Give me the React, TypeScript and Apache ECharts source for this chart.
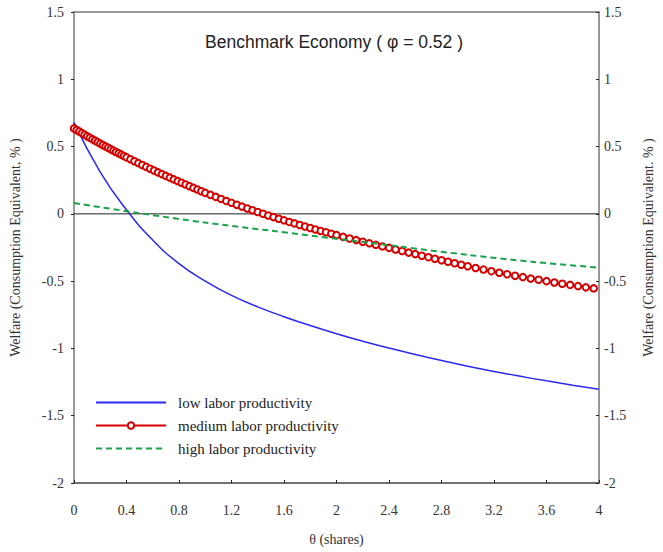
import React, { useEffect, useRef } from "react";
import * as echarts from "echarts";

const titleText = "Benchmark Economy ( φ = 0.52 )";
const xTicks = { min: 0, max: 4, interval: 0.4 };
const yTicks = { min: -2, max: 1.5, interval: 0.5 };

const seriesNames = ["low labor productivity", "medium labor productivity", "high labor productivity"];

const thetaLow = [0, 0.2, 0.4, 0.6, 0.8, 1.0, 1.2, 1.4, 1.6, 1.8, 2.0, 2.2, 2.4, 2.6, 2.8, 3.0, 3.2, 3.4, 3.6, 3.8, 4.0];
const lowValues = [0.68, 0.31, 0.03, -0.195, -0.37, -0.5, -0.606, -0.691, -0.764, -0.83, -0.891, -0.946, -0.997, -1.045, -1.09, -1.132, -1.171, -1.207, -1.241, -1.273, -1.303];

const thetaMed = [
  0, 0.02, 0.04, 0.06, 0.08, 0.1, 0.12, 0.14, 0.16, 0.18, 0.2, 0.22, 0.24, 0.26, 0.28, 0.3, 0.32, 0.34, 0.36, 0.38, 0.4,
  0.43, 0.46, 0.49, 0.52, 0.55, 0.58, 0.61, 0.64, 0.67, 0.7, 0.73, 0.76, 0.79, 0.82, 0.85, 0.88, 0.91, 0.94, 0.97, 1.0,
  1.04, 1.08, 1.12, 1.16, 1.2, 1.24, 1.28, 1.32, 1.36, 1.4, 1.44, 1.48, 1.52, 1.56, 1.6, 1.64, 1.68, 1.72, 1.76, 1.8, 1.84, 1.88, 1.92, 1.96, 2.0,
  2.05, 2.1, 2.15, 2.2, 2.25, 2.3, 2.35, 2.4, 2.45, 2.5, 2.55, 2.6, 2.65, 2.7, 2.75, 2.8, 2.85, 2.9, 2.95, 3.0,
  3.06, 3.12, 3.18, 3.24, 3.3, 3.36, 3.42, 3.48, 3.54, 3.6, 3.66, 3.72, 3.78, 3.84, 3.9, 3.96,
];
const medValues = [
  0.635, 0.623, 0.612, 0.6, 0.589, 0.577, 0.566, 0.555, 0.544, 0.533, 0.522, 0.512, 0.501, 0.491, 0.48, 0.47, 0.46, 0.45, 0.44, 0.43, 0.42,
  0.406, 0.391, 0.377, 0.363, 0.349, 0.335, 0.322, 0.308, 0.295, 0.282, 0.269, 0.256, 0.243, 0.231, 0.218, 0.205, 0.193, 0.181, 0.168, 0.156,
  0.141, 0.126, 0.111, 0.096, 0.082, 0.068, 0.054, 0.04, 0.027, 0.014, 0.001, -0.012, -0.024, -0.036, -0.048, -0.06, -0.071, -0.083, -0.094, -0.105, -0.116, -0.127, -0.137, -0.148, -0.158,
  -0.171, -0.183, -0.195, -0.207, -0.219, -0.23, -0.242, -0.253, -0.265, -0.276, -0.288, -0.299, -0.311, -0.322, -0.334, -0.345, -0.356, -0.367, -0.378, -0.389,
  -0.402, -0.414, -0.426, -0.438, -0.449, -0.46, -0.47, -0.481, -0.49, -0.5, -0.51, -0.519, -0.528, -0.537, -0.546, -0.554,
];

const thetaHigh = [0, 0.5, 1.0, 1.5, 2.0, 2.5, 3.0, 3.5, 4.0];
const highValues = [0.08, 0.005, -0.065, -0.125, -0.185, -0.245, -0.305, -0.357, -0.4];

const zeroLine = [[0, 0], [4, 0]];

const zip = (xs: number[], ys: number[]) => xs.map((x, i) => [x, ys[i]]);

const serif = "'Liberation Serif', 'Times New Roman', serif";
const sans = "'Liberation Sans', Arial, sans-serif";

export default function App() {
  const ref = useRef<HTMLDivElement>(null);
  useEffect(() => {
    if (!ref.current) return;
    const chart = echarts.init(ref.current, undefined, { renderer: "svg" });
    const yAxisBase = {
      type: "value",
      min: yTicks.min,
      max: yTicks.max,
      interval: yTicks.interval,
      splitLine: { show: false },
      axisLine: { show: true, lineStyle: { color: "#999", width: 2 } },
      axisTick: { show: true, inside: false, length: 3, lineStyle: { color: "#222", width: 1 } },
      nameLocation: "middle",
      nameRotate: 90,
      nameTextStyle: { fontFamily: serif, fontSize: 14, color: "#333" },
    };
    chart.setOption({
      animation: false,
      backgroundColor: "#fff",
      title: {
        text: titleText,
        left: 329,
        textAlign: "center",
        top: 28,
        textStyle: { fontFamily: sans, fontSize: 17.5, fontWeight: "normal", color: "#222" },
      },
      grid: {
        left: 71,
        right: 62,
        top: 12,
        bottom: 69,
        show: true,
        borderColor: "#999",
        borderWidth: 2,
      },
      legend: {
        data: [
          { name: seriesNames[0], itemStyle: { opacity: 0 } },
          { name: seriesNames[1] },
          { name: seriesNames[2], itemStyle: { opacity: 0 } },
        ],
        orient: "vertical",
        left: 90,
        top: 390,
        itemWidth: 70,
        itemHeight: 8,
        itemGap: 8,
        textStyle: { fontFamily: serif, fontSize: 15, color: "#222", padding: [0, 0, 0, 7] },
      },
      xAxis: {
        type: "value",
        min: xTicks.min,
        max: xTicks.max,
        interval: xTicks.interval,
        name: "θ (shares)",
        nameLocation: "middle",
        nameGap: 49,
        nameTextStyle: { fontFamily: serif, fontSize: 14, color: "#333" },
        splitLine: { show: false },
        axisLine: { show: true, onZero: false, lineStyle: { color: "#666", width: 1.5 } },
        axisTick: { show: true, inside: true, length: 3, lineStyle: { color: "#222" } },
        axisLabel: { fontFamily: serif, fontSize: 14, color: "#333", margin: 20 },
      },
      yAxis: [
        {
          ...yAxisBase,
          position: "left",
          name: "Welfare (Consumption Equivalent, % )",
          nameGap: 52,
          axisLabel: { fontFamily: serif, fontSize: 14, color: "#333", margin: 10 },
        },
        {
          ...yAxisBase,
          position: "right",
          name: "Welfare (Consumption Equivalent. % )",
          nameGap: 42,
          axisTick: { show: true, inside: true, length: 3, lineStyle: { color: "#222", width: 1 } },
          axisLabel: { fontFamily: serif, fontSize: 14, color: "#333", margin: 5 },
        },
      ],
      series: [
        {
          type: "line",
          name: "zero",
          data: zeroLine,
          symbol: "none",
          silent: true,
          lineStyle: { color: "#222", width: 1 },
          z: 1,
        },
        {
          type: "line",
          name: seriesNames[0],
          data: zip(thetaLow, lowValues),
          smooth: 0.5,
          symbol: "none",
          color: "#2a2aee",
          lineStyle: { color: "#2a2aee", width: 1.5 },
          z: 3,
        },
        {
          type: "line",
          name: seriesNames[1],
          data: zip(thetaMed, medValues),
          symbol: "emptyCircle",
          symbolSize: 6.5,
          showAllSymbol: true,
          color: "#d40000",
          itemStyle: { color: "#d40000", borderColor: "#d40000", borderWidth: 1.8 },
          lineStyle: { color: "#d40000", width: 1.8 },
          z: 4,
        },
        {
          type: "line",
          name: seriesNames[2],
          data: zip(thetaHigh, highValues),
          smooth: 0.3,
          symbol: "none",
          color: "#1aa24a",
          lineStyle: { color: "#1aa24a", width: 2, type: [6, 4] },
          z: 5,
        },
      ],
    });
    return () => chart.dispose();
  }, []);
  return <div ref={ref} style={{ position: "fixed", left: 0, top: 0, width: 663, height: 552 }} />;
}
